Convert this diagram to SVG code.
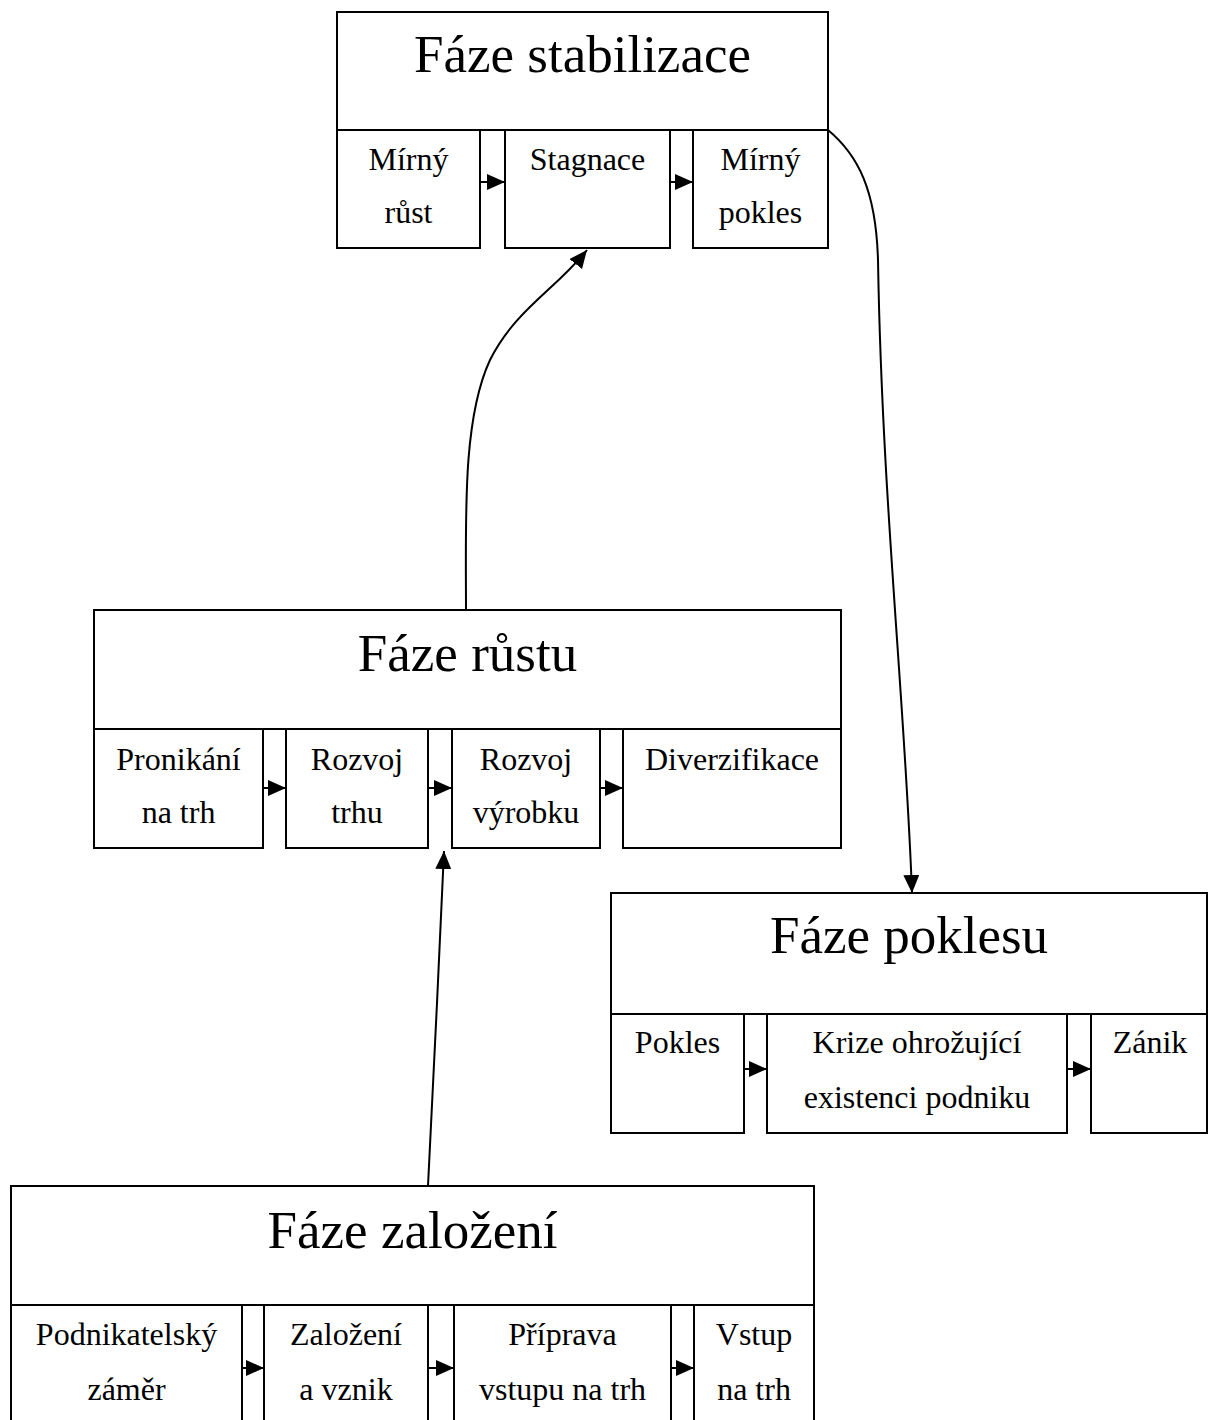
<svg xmlns="http://www.w3.org/2000/svg" width="1208" height="1420" viewBox="0 0 1208 1420">
<style>
.box{fill:#fff;stroke:#000;stroke-width:2}
.title{font-family:"Liberation Serif","Times New Roman",serif;font-size:53px;text-anchor:middle;fill:#000}
.lbl{font-family:"Liberation Serif","Times New Roman",serif;font-size:32px;text-anchor:middle;fill:#000}
.conn{fill:none;stroke:#000;stroke-width:2}
</style>
<defs>
<marker id="ah" markerUnits="userSpaceOnUse" markerWidth="19" markerHeight="17" refX="18" refY="8" orient="auto" viewBox="0 0 19 17">
<path d="M0,0 L18,8 L0,16 z" fill="#000"/>
</marker>
</defs>
<rect width="1208" height="1420" fill="#fff"/>

<g id="faze-stabilizace">
<rect class="box" x="337" y="12" width="491" height="118"/>
<text class="title" x="582.5" y="72">Fáze stabilizace</text>
<g id="mirny-rust"><rect class="box" x="337" y="130" width="143" height="118"/><text class="lbl" x="408.5" y="170">Mírný</text><text class="lbl" x="408.5" y="223">růst</text></g>
<g id="stagnace"><rect class="box" x="505" y="130" width="165" height="118"/><text class="lbl" x="587.5" y="170">Stagnace</text></g>
<g id="mirny-pokles"><rect class="box" x="693" y="130" width="135" height="118"/><text class="lbl" x="760.5" y="170">Mírný</text><text class="lbl" x="760.5" y="223">pokles</text></g>
</g>

<g id="faze-rustu">
<rect class="box" x="94" y="610" width="747" height="119"/>
<text class="title" x="467.5" y="671">Fáze růstu</text>
<g id="pronikani"><rect class="box" x="94" y="729" width="169" height="119"/><text class="lbl" x="178.5" y="770">Pronikání</text><text class="lbl" x="178.5" y="823">na trh</text></g>
<g id="rozvoj-trhu"><rect class="box" x="286" y="729" width="142" height="119"/><text class="lbl" x="357" y="770">Rozvoj</text><text class="lbl" x="357" y="823">trhu</text></g>
<g id="rozvoj-vyrobku"><rect class="box" x="452" y="729" width="148" height="119"/><text class="lbl" x="526" y="770">Rozvoj</text><text class="lbl" x="526" y="823">výrobku</text></g>
<g id="diverzifikace"><rect class="box" x="623" y="729" width="218" height="119"/><text class="lbl" x="732" y="770">Diverzifikace</text></g>
</g>

<g id="faze-poklesu">
<rect class="box" x="611" y="893" width="596" height="121"/>
<text class="title" x="909" y="953">Fáze poklesu</text>
<g id="pokles"><rect class="box" x="611" y="1014" width="133" height="119"/><text class="lbl" x="677.5" y="1053">Pokles</text></g>
<g id="krize"><rect class="box" x="767" y="1014" width="300" height="119"/><text class="lbl" x="917" y="1053">Krize ohrožující</text><text class="lbl" x="917" y="1108">existenci podniku</text></g>
<g id="zanik"><rect class="box" x="1091" y="1014" width="116" height="119"/><text class="lbl" x="1150" y="1053">Zánik</text></g>
</g>

<g id="faze-zalozeni">
<rect class="box" x="11" y="1186" width="803" height="119"/>
<text class="title" x="412.5" y="1248">Fáze založení</text>
<g id="podnikatelsky-zamer"><rect class="box" x="11" y="1305" width="231" height="130"/><text class="lbl" x="126.5" y="1345">Podnikatelský</text><text class="lbl" x="126.5" y="1400">záměr</text></g>
<g id="zalozeni-a-vznik"><rect class="box" x="264" y="1305" width="164" height="130"/><text class="lbl" x="346" y="1345">Založení</text><text class="lbl" x="346" y="1400">a vznik</text></g>
<g id="priprava"><rect class="box" x="454" y="1305" width="217" height="130"/><text class="lbl" x="562.5" y="1345">Příprava</text><text class="lbl" x="562.5" y="1400">vstupu na trh</text></g>
<g id="vstup"><rect class="box" x="694" y="1305" width="120" height="130"/><text class="lbl" x="754" y="1345">Vstup</text><text class="lbl" x="754" y="1400">na trh</text></g>
</g>

<g id="connectors">
<line class="conn" x1="480" y1="182" x2="505" y2="182" marker-end="url(#ah)"/>
<line class="conn" x1="670" y1="182" x2="693" y2="182" marker-end="url(#ah)"/>
<line class="conn" x1="263" y1="788" x2="286" y2="788" marker-end="url(#ah)"/>
<line class="conn" x1="428" y1="788" x2="452" y2="788" marker-end="url(#ah)"/>
<line class="conn" x1="600" y1="788" x2="623" y2="788" marker-end="url(#ah)"/>
<line class="conn" x1="744" y1="1069" x2="767" y2="1069" marker-end="url(#ah)"/>
<line class="conn" x1="1067" y1="1069" x2="1091" y2="1069" marker-end="url(#ah)"/>
<line class="conn" x1="242" y1="1368" x2="264" y2="1368" marker-end="url(#ah)"/>
<line class="conn" x1="428" y1="1368" x2="454" y2="1368" marker-end="url(#ah)"/>
<line class="conn" x1="671" y1="1368" x2="694" y2="1368" marker-end="url(#ah)"/>
<path class="conn" d="M428,1186 C432,1100 440,950 444,851" marker-end="url(#ah)"/>
<path class="conn" d="M466,610 C466,520 462,420 490,360 C515,310 555,290 587,250" marker-end="url(#ah)"/>
<path class="conn" d="M828,130 C858,155 876,190 878,260 C882,500 905,700 912,893" marker-end="url(#ah)"/>
</g>
</svg>
